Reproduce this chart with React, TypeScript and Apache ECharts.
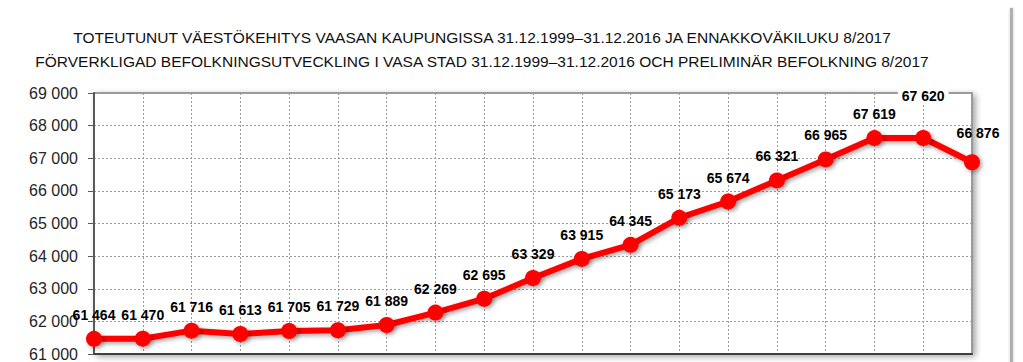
import React, { useEffect, useRef } from "react";
import * as echarts from "echarts";

const titleLine1 = "TOTEUTUNUT VÄESTÖKEHITYS VAASAN KAUPUNGISSA 31.12.1999–31.12.2016 JA ENNAKKOVÄKILUKU 8/2017";
const titleLine2 = "FÖRVERKLIGAD BEFOLKNINGSUTVECKLING I VASA STAD 31.12.1999–31.12.2016 OCH PRELIMINÄR BEFOLKNING 8/2017";

const categories = [
  "1999", "2000", "2001", "2002", "2003", "2004", "2005", "2006", "2007", "2008",
  "2009", "2010", "2011", "2012", "2013", "2014", "2015", "2016", "8/2017",
];
const population = [
  61464, 61470, 61716, 61613, 61705, 61729, 61889, 62269, 62695, 63329,
  63915, 64345, 65173, 65674, 66321, 66965, 67619, 67620, 66876,
];
const yMin = 61000;
const yMax = 69000;
const yStep = 1000;

const fmt = (v: number) => {
  const s = String(Math.round(v));
  return s.replace(/\B(?=(\d{3})+(?!\d))/g, " ");
};

export default function App() {
  const ref = useRef<HTMLDivElement>(null);
  useEffect(() => {
    document.body.style.margin = "0";
    const chart = echarts.init(ref.current!, null, { renderer: "svg" });
    const font = "Liberation Sans";
    const data = population.map((v, i) => {
      const item: any = { value: v };
      if (i === 17) {
        item.label = { distance: 26, backgroundColor: "#ffffff", padding: [1, 4, 1, 4] };
      }
      if (i === 18) {
        item.label = { offset: [6, -5] };
      }
      return item;
    });
    chart.setOption({
      animation: false,
      backgroundColor: "#ffffff",
      textStyle: { fontFamily: font },
      title: [
        {
          text: titleLine1,
          left: 477,
          top: 24,
          textAlign: "center",
          textStyle: { fontFamily: font, fontSize: 15.5, fontWeight: "normal", color: "#111111" },
        },
        {
          text: titleLine2,
          left: 477,
          top: 48,
          textAlign: "center",
          textStyle: { fontFamily: font, fontSize: 15.5, fontWeight: "normal", color: "#111111" },
        },
      ],
      grid: {
        left: 94,
        right: 51,
        top: 93,
        bottom: 6,
        show: true,
        borderColor: "#808080",
        borderWidth: 1.5,
        backgroundColor: "#ffffff",
        shadowColor: "rgba(0,0,0,0.35)",
        shadowBlur: 6,
        shadowOffsetX: 3,
        shadowOffsetY: 2,
      },
      xAxis: {
        type: "category",
        data: categories,
        boundaryGap: false,
        axisLine: { lineStyle: { color: "#404040", width: 2 } },
        axisTick: { show: false },
        axisLabel: { show: false },
        splitLine: { show: true, lineStyle: { color: "#9a9a9a", type: [2, 2], width: 1 } },
      },
      yAxis: {
        type: "value",
        min: yMin,
        max: yMax,
        interval: yStep,
        axisLine: { show: true, lineStyle: { color: "#595959", width: 2 } },
        axisTick: { show: true, length: 6, lineStyle: { color: "#595959", width: 1 } },
        axisLabel: {
          formatter: (v: number) => fmt(v),
          fontFamily: font,
          fontSize: 16,
          color: "#262626",
          margin: 16,
        },
        splitLine: { show: true, lineStyle: { color: "#9a9a9a", type: [2, 2], width: 1 } },
      },
      series: [
        {
          type: "line",
          data,
          symbol: "circle",
          symbolSize: 16,
          itemStyle: {
            color: "#ff0000",
            shadowColor: "rgba(0,0,0,0.35)",
            shadowBlur: 4,
            shadowOffsetX: 2,
            shadowOffsetY: 2,
          },
          lineStyle: {
            color: "#ff0000",
            width: 6,
            shadowColor: "rgba(0,0,0,0.35)",
            shadowBlur: 4,
            shadowOffsetX: 2,
            shadowOffsetY: 2,
          },
          label: {
            show: true,
            position: "top",
            distance: 9,
            formatter: (p: any) => fmt(p.value),
            fontFamily: font,
            fontSize: 14,
            fontWeight: "bold",
            color: "#000000",
          },
        },
      ],
      graphic: [
        {
          type: "rect",
          shape: { x: 1010, y: 8, width: 3, height: 360 },
          style: { fill: "#b0b0b0", shadowColor: "rgba(0,0,0,0.2)", shadowBlur: 3 },
          silent: true,
        },
      ],
    });
    return () => chart.dispose();
  }, []);
  return <div ref={ref} style={{ width: 1023, height: 362 }} />;
}
